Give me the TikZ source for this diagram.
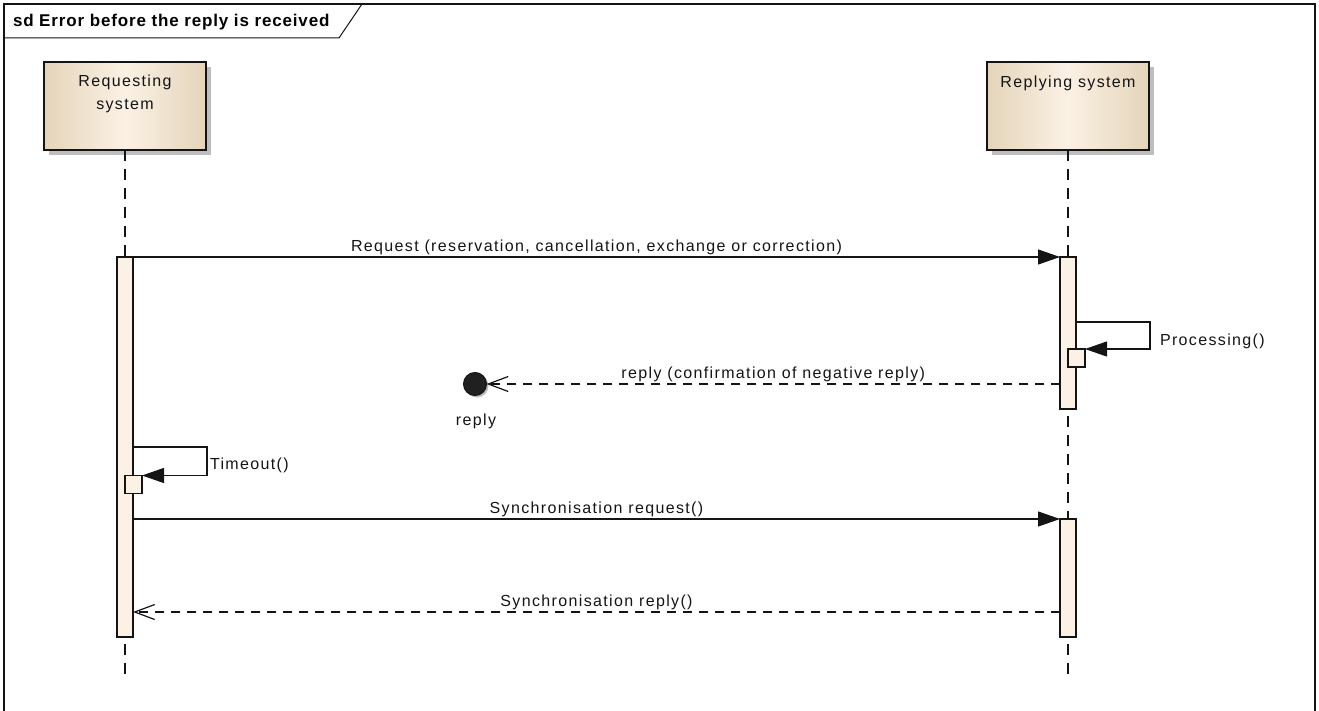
\documentclass[tikz,border=0pt]{standalone}
\usepackage{fontspec}
\setmainfont{Liberation Sans}
\usetikzlibrary{arrows.meta,shadows,calc}
\definecolor{tanD}{RGB}{228,212,186}
\definecolor{tanL}{RGB}{251,241,228}
\definecolor{actF}{RGB}{251,241,228}
\definecolor{ink}{RGB}{20,20,20}
\definecolor{shd}{RGB}{190,190,190}
\newcommand{\lbl}{\fontsize{16}{23}\selectfont\addfontfeature{LetterSpace=8.5}}
\begin{document}
\begin{tikzpicture}[x=1pt,y=-1pt,
  every node/.style={inner sep=0pt,outer sep=0pt},
  lifebox/.style={draw=ink,line width=1.4pt,rectangle,left color=tanD,right color=tanD,middle color=tanL,
    minimum width=162pt,minimum height=88pt,
    drop shadow={shadow xshift=5pt,shadow yshift=-5pt,fill=shd,opacity=1}},
  actbox/.style={draw=ink,line width=1.2pt,fill=actF,rectangle,minimum width=16pt},
  lifeline/.style={draw=ink,line width=1.1pt,dash pattern=on 11pt off 8pt},
  msg/.style={draw=ink,line width=1.2pt,-{Triangle[length=22pt,width=15pt]}},
  rmsg/.style={draw=ink,line width=1.2pt,dash pattern=on 9pt off 7pt,-{Straight Barb[length=20pt,width=15pt,line width=1.2pt]}},
  txt/.style={font=\lbl,text=ink}]
\useasboundingbox (0,0) rectangle (1319,711);
% frame
\draw[ink,line width=1.2pt] (4,711) -- (4,4) -- (1315,4) -- (1315,711);
\draw[ink,line width=1pt] (4,38) -- (339,38) -- (362,4);
\node[anchor=west,font=\fontsize{17}{20}\selectfont\bfseries\addfontfeature{LetterSpace=5}] (title) at (13,22) {sd Error before the reply is received};
% lifelines
\node[lifebox] (req) at (125,106) {};
\node[txt,align=center,anchor=north] (reqt) at (125,75) {Requesting\\system};
\node[lifebox] (rep) at (1068,106) {};
\node[txt,anchor=north] (rept) at (1068,76) {Replying system};
\coordinate (reqend) at (125,675);
\coordinate (repend) at (1068,675);
\draw[lifeline] (req.south) -- (reqend);
\draw[lifeline] (rep.south) -- (repend);
% activations
\node[actbox,minimum height=380pt] (act1) at (125,447) {};
\node[actbox,minimum height=152pt] (act2) at (1068,333) {};
\node[actbox,minimum height=118pt] (act3) at (1068,578) {};
\node[actbox,minimum width=17pt,minimum height=18pt] (proc) at (1076.5,358) {};
\node[actbox,minimum width=17pt,minimum height=18pt] (tbox) at (133.5,484.5) {};
% lost message endpoint
\node[circle,fill=ink!95,draw=ink,line width=1pt,minimum size=23pt,
  drop shadow={shadow xshift=2pt,shadow yshift=-2pt,fill=shd,opacity=1}] (lost) at (475,384) {};
\node[txt,anchor=north] (lostl) at (476,414) {reply};
% messages
\draw[msg] (act1.north east) -- node[txt,above=2pt] {Request (reservation, cancellation, exchange or correction)} (act2.north west);
\draw[msg] ([yshift=-65pt]act2.north east) -- ++(74,0) |- node[txt,anchor=west,pos=0.35,xshift=10pt] {Processing()} (proc.north east);
\draw[rmsg] ([yshift=25pt]act2.south west) -- node[txt,above=2pt] {reply (confirmation of negative reply)} (lost.east);
\draw[msg] ([yshift=-190pt]act1.north east) -- ++(74,0) |- node[txt,anchor=west,pos=0.33,xshift=3pt] {Timeout()} (tbox.north east);
\draw[msg] (act1.east |- act3.north) -- node[txt,above=2pt] {Synchronisation request()} (act3.north west);
\draw[rmsg] ([yshift=25pt]act3.south west) -- node[txt,above=2pt] {Synchronisation reply()} ([yshift=25pt]act1.south east);
\end{tikzpicture}
\end{document}
